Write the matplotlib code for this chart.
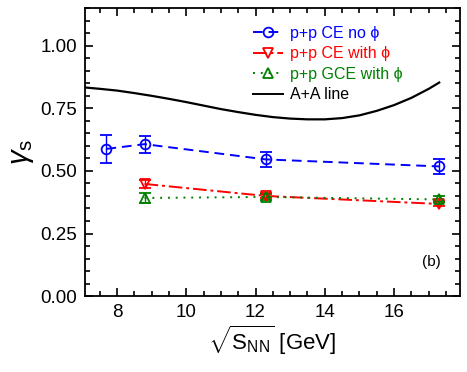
import matplotlib
matplotlib.use("Agg")
import matplotlib.pyplot as plt
from matplotlib.lines import Line2D
from matplotlib.ticker import MultipleLocator, FormatStrFormatter

plt.rcParams["font.family"] = ["Liberation Sans", "DejaVu Sans"]
plt.rcParams["mathtext.fontset"] = "custom"
plt.rcParams["mathtext.rm"] = "Liberation Sans"
plt.rcParams["mathtext.it"] = "Liberation Sans:italic"

# p+p CE without phi
x_ce = [7.7, 8.8, 12.3, 17.3]
y_ce = [0.588, 0.607, 0.546, 0.518]
e_ce = [0.056, 0.034, 0.030, 0.030]

# p+p CE with phi
x_cephi = [8.8, 12.3, 17.3]
y_cephi = [0.448, 0.400, 0.368]
e_cephi = [0.015, 0.010, 0.010]

# p+p GCE with phi
x_gce = [8.8, 12.3, 17.3]
y_gce = [0.392, 0.396, 0.386]
e_gce = [0.020, 0.012, 0.012]

# A+A line
x_aa = [7.1, 7.5, 8.0, 8.5, 9.0, 9.5, 10.0, 10.5, 11.0, 11.5, 12.0, 12.5,
        13.0, 13.5, 14.0, 14.5, 15.0, 15.5, 16.0, 16.5, 17.0, 17.3]
y_aa = [0.833, 0.828, 0.821, 0.811, 0.800, 0.788, 0.775, 0.761, 0.747, 0.735,
        0.724, 0.715, 0.709, 0.706, 0.706, 0.711, 0.722, 0.740, 0.763, 0.792,
        0.828, 0.853]

labels = [r"p+p CE no ϕ", r"p+p CE with ϕ", r"p+p GCE with ϕ", "A+A line"]
colors = ["#0000ff", "#ff0000", "#008000", "black"]
styles = [(0, (5, 3)), (0, (7, 2, 1.5, 2)), (0, (1, 3)), "-"]
markers = ["o", "v", "^", None]

fig = plt.figure(figsize=(4.67, 3.72), dpi=100)
ax = fig.add_axes([0.182, 0.204, 0.803, 0.774])

series = [(x_ce, y_ce, e_ce), (x_cephi, y_cephi, e_cephi), (x_gce, y_gce, e_gce)]
for (xs, ys, es), c, ls, m in zip(series, colors, styles, markers):
    ax.errorbar(xs, ys, yerr=es, color=c, ls=ls, lw=1.4, marker=m, ms=7,
                mfc="none", mew=1.3, capsize=4, elinewidth=1.0)
ax.plot(x_aa, y_aa, color="black", lw=1.6)

ax.set_xlim(7.08, 17.9)
ax.set_ylim(0, 1.15)
ax.xaxis.set_major_locator(MultipleLocator(2))
ax.xaxis.set_minor_locator(MultipleLocator(0.5))
ax.yaxis.set_major_locator(MultipleLocator(0.25))
ax.yaxis.set_minor_locator(MultipleLocator(0.05))
ax.yaxis.set_major_formatter(FormatStrFormatter("%.2f"))
ax.tick_params(which="both", direction="in", top=True, right=True,
               labelsize=13.5, width=1.2)
ax.tick_params(which="major", length=6, pad=5.5)
ax.tick_params(which="minor", length=3.5)
for s in ax.spines.values():
    s.set_linewidth(1.3)

ax.set_ylabel(r"$\gamma_{\mathregular{s}}$", fontsize=21, labelpad=3)
ax.set_xlabel(r"$\sqrt{\mathregular{S_{NN}}}$ [GeV]", fontsize=16, labelpad=2)

ax.text(16.8, 0.12, "(b)", fontsize=11)

handles = [Line2D([], [], color=c, ls=ls, lw=1.4, marker=m, ms=7, mfc="none",
                  mew=1.3) for c, ls, m in zip(colors, styles, markers)]
leg = ax.legend(handles, labels, loc="upper left", bbox_to_anchor=(0.43, 0.962),
                frameon=False, fontsize=11.5, handlelength=1.9, handletextpad=0.45,
                labelspacing=0.35, borderaxespad=0.0)
for txt, c in zip(leg.get_texts(), colors):
    txt.set_color(c)

fig.savefig("out.png", dpi=100)
